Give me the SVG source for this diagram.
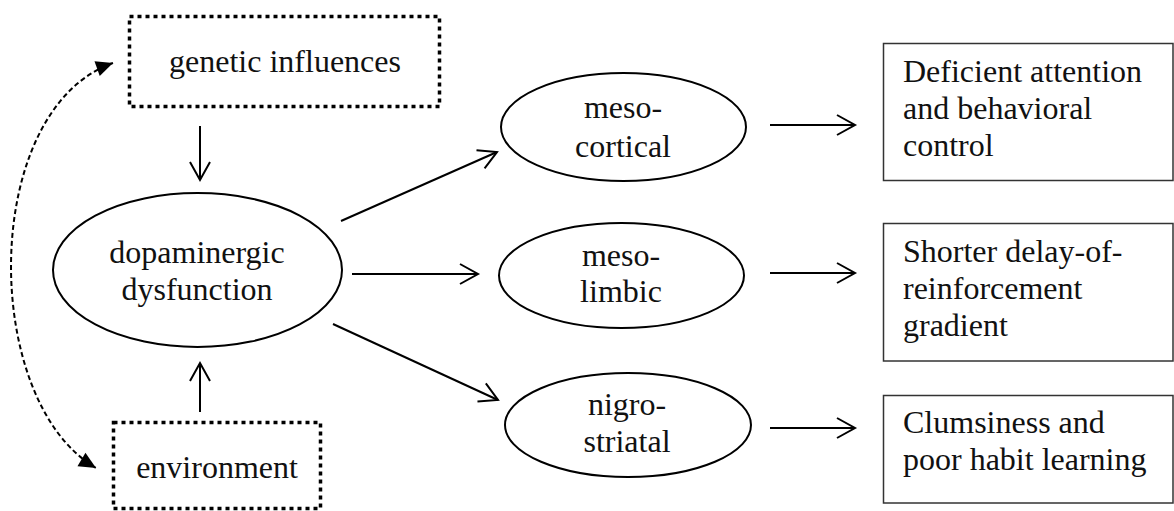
<svg xmlns="http://www.w3.org/2000/svg" width="1174" height="511" viewBox="0 0 1174 511">
  <style>
    text { font-family: "Liberation Serif", "Times New Roman", serif; font-size: 32px; fill: #111; }
    .mid { text-anchor: middle; }
    .dotted { fill: none; stroke: #000; stroke-width: 3.5; stroke-dasharray: 4 4; }
    .oval { fill: none; stroke: #000; stroke-width: 2; }
    .outcome { fill: none; stroke: #333; stroke-width: 1.5; }
    .link { fill: none; stroke: #000; stroke-width: 2; marker-end: url(#open); }
    .mutual { fill: none; stroke: #000; stroke-width: 2; stroke-dasharray: 5 3; marker-start: url(#solid); marker-end: url(#solid); }
  </style>
  <defs>
    <marker id="open" markerUnits="userSpaceOnUse" markerWidth="24" markerHeight="24" viewBox="-20 -12 24 24" refX="0" refY="0" orient="auto" overflow="visible">
      <path d="M -18 -10 L 0 0 L -18 10" fill="none" stroke="#000" stroke-width="2"/>
    </marker>
    <marker id="solid" markerUnits="userSpaceOnUse" markerWidth="20" markerHeight="20" viewBox="-17 -8 19 16" refX="0" refY="0" orient="auto-start-reverse" overflow="visible">
      <path d="M -16 -7.5 L 0 0 L -16 7.5 Z" fill="#000"/>
    </marker>
  </defs>

  <!-- causes -->
  <g id="genetic">
    <rect class="dotted" x="129.5" y="16.5" width="310" height="90"/>
    <text x="285" y="72" class="mid">genetic influences</text>
  </g>
  <g id="environment">
    <rect class="dotted" x="113.5" y="422.5" width="207" height="86"/>
    <text x="217" y="478" class="mid">environment</text>
  </g>

  <!-- core dysfunction -->
  <g id="dopaminergic">
    <ellipse class="oval" cx="197.5" cy="270" rx="144.5" ry="77"/>
    <text x="197" y="263" class="mid">dopaminergic</text>
    <text x="197" y="300" class="mid">dysfunction</text>
  </g>

  <!-- pathways -->
  <g id="mesocortical">
    <ellipse class="oval" cx="623.5" cy="127" rx="122.5" ry="54"/>
    <text x="623" y="118" class="mid">meso-</text>
    <text x="623" y="157" class="mid">cortical</text>
  </g>
  <g id="mesolimbic">
    <ellipse class="oval" cx="621.5" cy="275.5" rx="122.5" ry="52.5"/>
    <text x="621" y="266" class="mid">meso-</text>
    <text x="621" y="302" class="mid">limbic</text>
  </g>
  <g id="nigrostriatal">
    <ellipse class="oval" cx="628" cy="425" rx="123" ry="52"/>
    <text x="627" y="415" class="mid">nigro-</text>
    <text x="627" y="452" class="mid">striatal</text>
  </g>

  <!-- outcomes -->
  <g id="attention">
    <rect class="outcome" x="883.5" y="43.5" width="289.5" height="137"/>
    <text x="903" y="82">Deficient attention</text>
    <text x="903" y="119">and behavioral</text>
    <text x="903" y="156">control</text>
  </g>
  <g id="delay">
    <rect class="outcome" x="883.5" y="223.5" width="289.5" height="137.5"/>
    <text x="903" y="262">Shorter delay-of-</text>
    <text x="903" y="299">reinforcement</text>
    <text x="903" y="336">gradient</text>
  </g>
  <g id="clumsiness">
    <rect class="outcome" x="883.5" y="395.5" width="289.5" height="107.5"/>
    <text x="903" y="433">Clumsiness and</text>
    <text x="903" y="470">poor habit learning</text>
  </g>

  <!-- connectors -->
  <g id="connectors">
    <path class="mutual" d="M 113 63 C -20 110, -20 400, 96 468"/>
    <line class="link" x1="200" y1="126" x2="200" y2="180"/>
    <line class="link" x1="200" y1="412" x2="200" y2="363"/>
    <line class="link" x1="341" y1="221" x2="497" y2="152"/>
    <line class="link" x1="352" y1="274" x2="478" y2="274"/>
    <line class="link" x1="333" y1="324" x2="498" y2="400"/>
    <line class="link" x1="770" y1="125" x2="855" y2="125"/>
    <line class="link" x1="770" y1="273" x2="855" y2="273"/>
    <line class="link" x1="770" y1="428" x2="855" y2="428"/>
  </g>
</svg>
